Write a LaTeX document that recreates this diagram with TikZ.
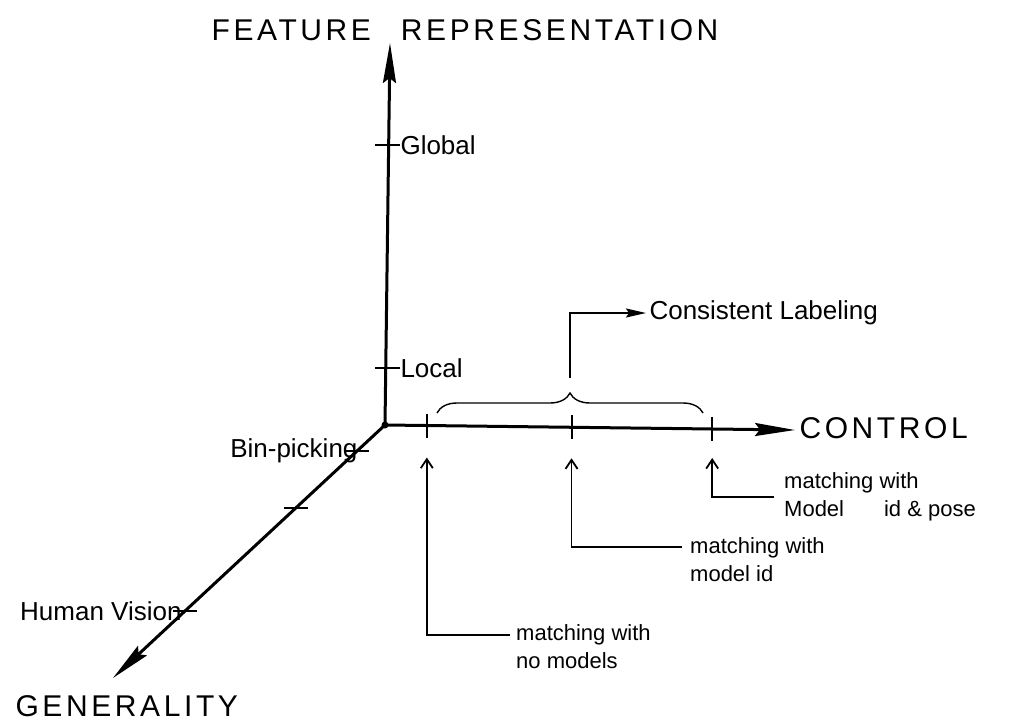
\documentclass[tikz,border=0pt]{standalone}
\usepackage{fontspec}
\setmainfont{Liberation Sans}
\newfontfamily\capsfont[LetterSpace=12]{Liberation Sans}
\usetikzlibrary{arrows.meta,calc,decorations.pathreplacing}

\begin{document}
\begin{tikzpicture}[x=1pt,y=-1pt,
  axis/.style={line width=3pt,-{Stealth[length=40pt,width=13pt,inset=5pt]}},
  tick/.style={line width=2pt},
  pointer/.style={line width=1.8pt,-{Straight Barb[length=9pt,width=12pt]}},
  bigname/.style={font=\capsfont\fontsize{30}{34}\selectfont},
  tag/.style={font=\fontsize{26}{30}\selectfont},
  note/.style={font=\fontsize{22}{28}\selectfont,align=left,inner sep=0pt,anchor=north west}]
  \useasboundingbox (0,0) rectangle (1021,723);
  % the three axes
  \coordinate (O) at (385,425);
  \coordinate (feat) at (390,43);
  \coordinate (ctrl) at (795,430);
  \coordinate (gen) at (113,678);
  \draw[axis] (O) -- (feat);
  \draw[axis] (O) -- (ctrl);
  \draw[axis] (O) -- (gen);
  \fill (O) circle (3.5pt);
  \node[bigname] (featname) at (465,30) {FEATURE\hspace{30pt}REPRESENTATION};
  \node[bigname,anchor=west] (ctrlname) at (796,428) {CONTROL};
  \node[bigname,anchor=west] (genname) at (12,706) {GENERALITY};
  % feature representation
  \foreach \y/\name/\txt in {145/glob/Global,368/loc/Local}{
    \draw[tick] (375,\y) -- (400,\y);
    \node[tag,anchor=west] (\name) at (397,\y) {\txt};
  }
  % generality
  \foreach \t/\name in {0.103/g1,0.328/g2,0.735/g3}{
    \coordinate (\name) at ($(O)!\t!(gen)$);
    \draw[tick] (\name) +(-12,0) -- +(12,0);
  }
  \node[tag,anchor=east] (bin) at ([xshift=4pt]g1) {Bin-picking};
  \node[tag,anchor=east] (human) at (g3) {Human Vision};
  % control
  \foreach \t/\name in {0.102/c1,0.455/c2,0.798/c3}{
    \coordinate (\name) at ($(O)!\t!(ctrl)$);
    \draw[tick] (\name) +(0,-12) -- +(0,12);
  }
  \draw[decorate,decoration={brace,amplitude=20pt},line width=1.4pt] (437,413) -- (703,413);
  \coordinate (brtip) at (570,393);
  \node[tag,anchor=west] (cons) at (646,313) {Consistent Labeling};
  \draw[line width=1.8pt,-{Stealth[length=20pt,width=9pt,inset=3pt]}] ([yshift=15pt]brtip) |- (cons.west);
  \node[note] (nomod) at (516,624) {matching with\\no models};
  \node[note] (modid) at (690,537) {matching with\\model id};
  \node[note] (modpose) at (784,472) {matching with\\Model\hspace{40pt}id \& pose};
  \draw[pointer] ([xshift=-6pt,yshift=-11pt]nomod.north west) -| ([yshift=-32pt]c1);
  \draw[pointer] ([xshift=-8pt,yshift=-10pt]modid.north west) -| ([yshift=-31pt]c2);
  \draw[pointer] ([xshift=-10pt,yshift=-25pt]modpose.north west) -| ([yshift=-29pt]c3);
\end{tikzpicture}
\end{document}
